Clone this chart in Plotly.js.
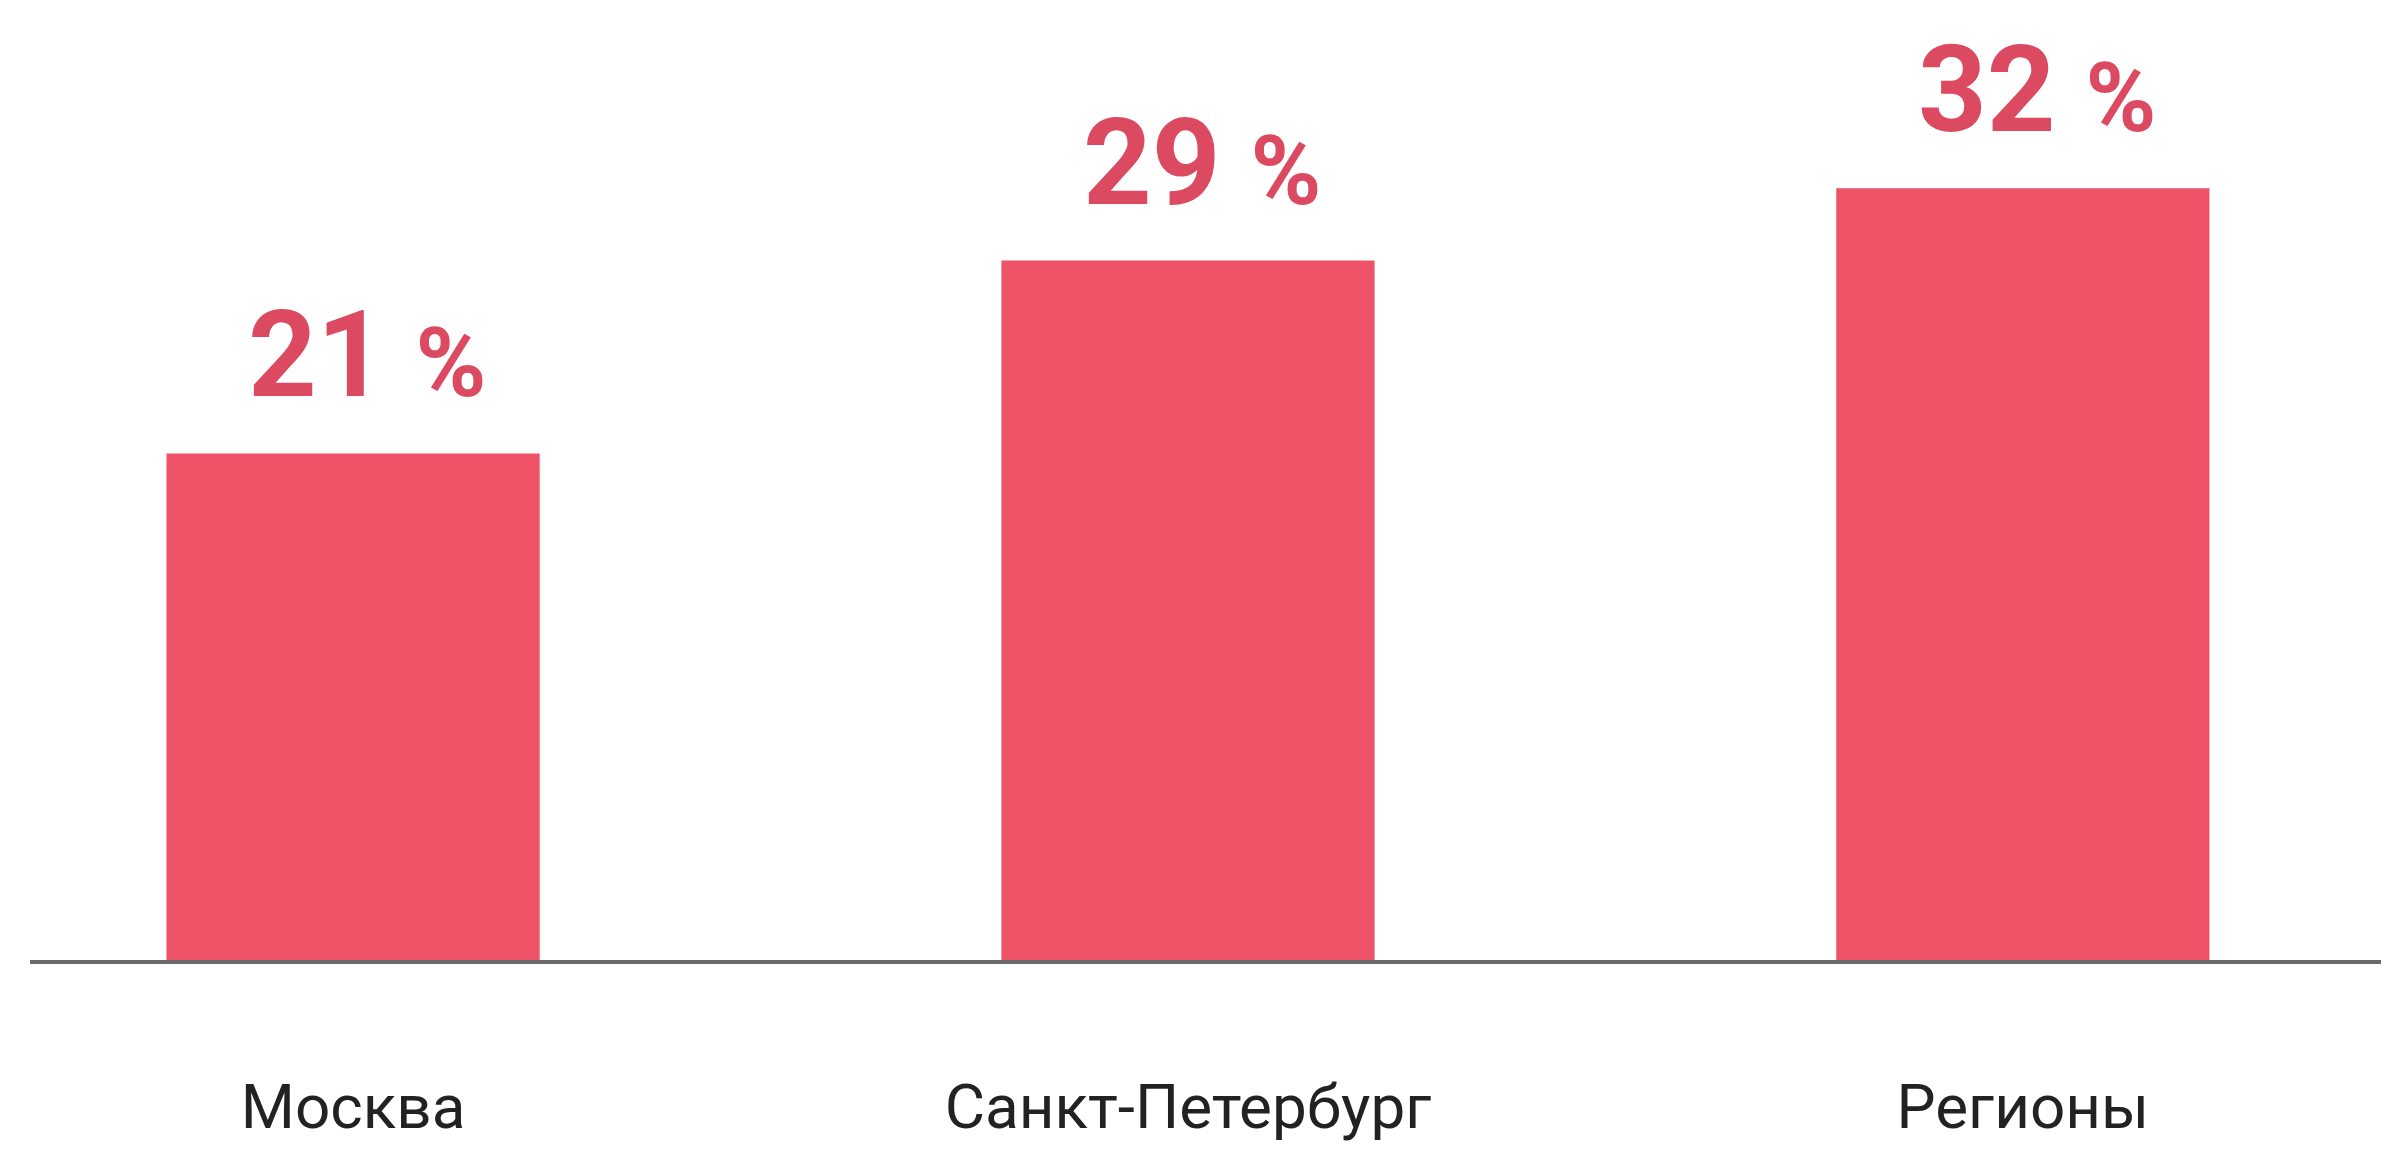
<!DOCTYPE html>
<html>
<head>
<meta charset="utf-8">
<script src="https://cdn.plot.ly/plotly-3.0.1.min.js"></script>
<style>html,body{margin:0;padding:0;background:#fff;}#chart{width:2381px;height:1149px;}</style>
</head>
<body>
<div id="chart"></div>
<script>
const categories = ["Москва", "Санкт-Петербург", "Регионы"];
const values = [21, 29, 32];
const valueSuffix = "%";

const barColor = "#EE5266";
const labelColor = "#DC4A62";
const numFont = "Roboto, 'Liberation Sans', sans-serif";

const trace = {
  type: "bar",
  x: categories,
  y: values,
  marker: {color: barColor, line: {width: 0}},
  hoverinfo: "none"
};

const annotations = categories.map((c, i) => ({
  x: c, y: values[i], xref: "x", yref: "y",
  xanchor: "center", yanchor: "bottom",
  yshift: 26, xshift: 14,
  showarrow: false,
  text: "<b>" + values[i] + "</b> <span style='font-size:96px'><b>" + valueSuffix + "</b></span>",
  font: {family: numFont, size: 120, color: labelColor}
}));

const layout = {
  width: 2381, height: 1149,
  margin: {l: 30, r: 0, t: 0, b: 189},
  paper_bgcolor: "#fff", plot_bgcolor: "#fff",
  bargap: 0.553,
  showlegend: false,
  xaxis: {
    type: "category",
    range: [-0.387, 2.429],
    showline: true, linecolor: "#6a6a6a", linewidth: 4,
    showgrid: false, zeroline: false, ticks: "",
    ticklabelstandoff: 90,
    tickfont: {family: numFont, size: 62, color: "#222222"}
  },
  yaxis: {
    range: [0, 39.8],
    visible: false, showgrid: false, zeroline: false
  },
  annotations: annotations
};

Plotly.newPlot("chart", [trace], layout, {displayModeBar: false, staticPlot: true});
</script>
</body>
</html>
